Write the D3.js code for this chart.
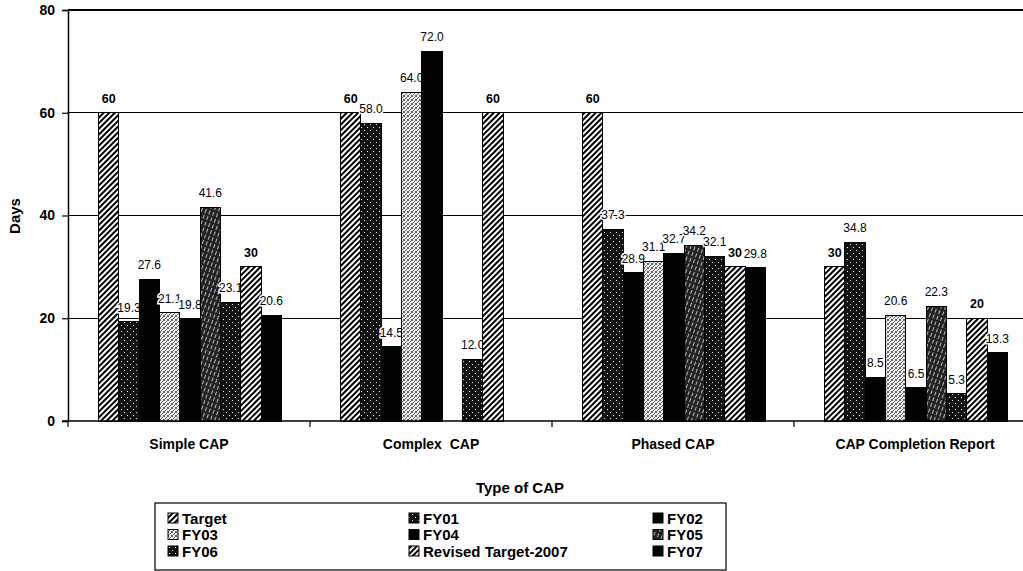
<!DOCTYPE html>
<html><head><meta charset="utf-8">
<script src="https://cdn.jsdelivr.net/npm/d3@7"></script>
<style>body{margin:0;background:#fff;} svg{display:block;font-family:Arial,"Liberation Sans",sans-serif;}</style>
</head><body>
<svg id="chart" width="1023" height="571"></svg>
<script>
const categories = ["Simple CAP", "Complex  CAP", "Phased CAP", "CAP Completion Report"];
const seriesNames = ["Target", "FY01", "FY02", "FY03", "FY04", "FY05", "FY06", "Revised Target-2007", "FY07"];
const target   = [60, 60, 60, 30];
const fy01     = [19.3, 58.0, 37.3, 34.8];
const fy02     = [27.6, 14.5, 28.9, 8.5];
const fy03     = [21.1, 64.0, 31.1, 20.6];
const fy04     = [19.8, 72.0, 32.7, 6.5];
const fy05     = [41.6, null, 34.2, 22.3];
const fy06     = [23.1, 12.0, 32.1, 5.3];
const revised  = [30, 60, 30, 20];
const fy07     = [20.6, null, 29.8, 13.3];
const labelText = [
  ["60","60","60","30"],
  ["19.3","58.0","37.3","34.8"],
  ["27.6","14.5","28.9","8.5"],
  ["21.1","64.0","31.1","20.6"],
  ["19.8","72.0","32.7","6.5"],
  ["41.6","","34.2","22.3"],
  ["23.1","12.0","32.1","5.3"],
  ["30","60","30","20"],
  ["20.6","","29.8","13.3"]
];
const yTicks = [0, 20, 40, 60, 80];

const seriesValues = [target, fy01, fy02, fy03, fy04, fy05, fy06, revised, fy07];
const fills = ["url(#hatch)","url(#darkdots)","#000","url(#stipple)","#000","url(#streak)","url(#darkdots2)","url(#hatch)","#000"];
const boldLabel = [true,false,false,false,false,false,false,true,false];

const svg = d3.select("#chart");
const defs = svg.append("defs");
// diagonal hatch
const ph = defs.append("pattern").attr("id","hatch").attr("patternUnits","userSpaceOnUse")
  .attr("width",4).attr("height",4).attr("patternTransform","rotate(45)");
ph.append("rect").attr("width",4).attr("height",4).attr("fill","#fff");
ph.append("rect").attr("x",0).attr("width",2).attr("height",4).attr("fill","#000");
// dark dots
function darkDots(id){
  const p = defs.append("pattern").attr("id",id).attr("patternUnits","userSpaceOnUse").attr("width",6).attr("height",6);
  p.append("rect").attr("width",6).attr("height",6).attr("fill","#111");
  p.append("rect").attr("x",1).attr("y",1).attr("width",1).attr("height",1).attr("fill","#fff");
  p.append("rect").attr("x",4).attr("y",4).attr("width",1).attr("height",1).attr("fill","#ddd");
}
darkDots("darkdots"); darkDots("darkdots2");
// light stipple
const ps = defs.append("pattern").attr("id","stipple").attr("patternUnits","userSpaceOnUse").attr("width",4).attr("height",4);
ps.append("rect").attr("width",4).attr("height",4).attr("fill","#eeeeee");
[[0,0],[2,1],[1,2],[3,3],[3,0],[0,3]].forEach(([x,y])=>ps.append("rect").attr("x",x).attr("y",y).attr("width",1).attr("height",1).attr("fill","#666"));
// dark streaks
const pk = defs.append("pattern").attr("id","streak").attr("patternUnits","userSpaceOnUse")
  .attr("width",4).attr("height",6).attr("patternTransform","rotate(20)");
pk.append("rect").attr("width",4).attr("height",6).attr("fill","#222");
pk.append("rect").attr("x",1).attr("y",0).attr("width",1).attr("height",4).attr("fill","#bbb");

const plotLeft = 68, plotTop = 10, plotBottom = 421, bandW = 242;
const x0 = d3.scaleBand().domain(categories).range([plotLeft, plotLeft + bandW*categories.length]).padding(0);
const x1 = d3.scaleBand().domain(seriesNames).range([30.5, bandW - 28.5]).padding(0);
const y = d3.scaleLinear().domain([0, 80]).range([plotBottom, plotTop]);

// gridlines
svg.append("g").selectAll("line").data(yTicks.filter(d=>d>0)).join("line")
  .attr("x1", plotLeft).attr("x2", 1040).attr("y1", d=>y(d)).attr("y2", d=>y(d))
  .attr("stroke","#000").attr("stroke-width",1.2).attr("shape-rendering","crispEdges");

// bars and labels per series
seriesNames.forEach((s, i) => {
  const vals = seriesValues[i];
  const g = svg.append("g");
  const data = categories.map((c, j) => ({c, v: vals[j], t: labelText[i][j]})).filter(d => d.v != null);
  g.selectAll("rect").data(data).join("rect")
    .attr("x", d => x0(d.c) + x1(s)).attr("width", x1.bandwidth())
    .attr("y", d => y(d.v)).attr("height", d => y(0) - y(d.v))
    .attr("fill", fills[i]).attr("stroke","#000").attr("stroke-width",1).attr("shape-rendering","crispEdges");
  ["halo","txt"].forEach(kind => {
    g.selectAll("text." + kind).data(data).join("text").attr("class", kind)
      .attr("x", d => x0(d.c) + x1(s) + x1.bandwidth()/2)
      .attr("y", d => y(d.v) - 10)
      .attr("text-anchor","middle")
      .attr("font-size", boldLabel[i] ? 12.5 : 12)
      .attr("font-weight", boldLabel[i] ? "bold" : "normal")
      .attr("fill", kind === "halo" ? "#fff" : "#000")
      .attr("stroke", kind === "halo" ? "#fff" : "none")
      .attr("stroke-width", kind === "halo" ? 3 : 0)
      .text(d => d.t);
  });
});

// y axis
const yAxis = d3.axisLeft(y).tickValues(yTicks).tickSize(6).tickPadding(7);
const ya = svg.append("g").attr("transform", `translate(${plotLeft},0)`).call(yAxis);
ya.select(".domain").attr("stroke","#000").attr("stroke-width",1.5);
ya.selectAll(".tick line").attr("stroke","#000").attr("stroke-width",1.2);
ya.selectAll(".tick text").attr("font-size",14).attr("font-weight","bold").attr("fill","#000")
  .attr("font-family","Arial,'Liberation Sans',sans-serif");

// x axis
const xa = svg.append("g").attr("transform", `translate(0,${plotBottom})`);
xa.append("line").attr("x1", plotLeft - 6).attr("x2", 1040).attr("stroke","#000").attr("stroke-width",1.5);
xa.selectAll("line.tk").data(d3.range(categories.length+1)).join("line").attr("class","tk")
  .attr("x1", d => plotLeft + d*bandW).attr("x2", d => plotLeft + d*bandW).attr("y1",0).attr("y2",6)
  .attr("stroke","#000").attr("stroke-width",1.2);
xa.selectAll("text").data(categories).join("text")
  .attr("x", d => x0(d) + bandW/2).attr("y", 28)
  .attr("text-anchor","middle").attr("font-size",14).attr("font-weight","bold")
  .style("white-space","pre").attr("xml:space","preserve")
  .text(d => d);

// axis titles
svg.append("text").attr("transform","translate(20,216) rotate(-90)").attr("text-anchor","middle")
  .attr("font-size",15).attr("font-weight","bold").text("Days");
svg.append("text").attr("x",520).attr("y",493).attr("text-anchor","middle")
  .attr("font-size",15).attr("font-weight","bold").text("Type of CAP");

// legend
const lgX = 155, lgY = 503;
svg.append("rect").attr("x", lgX).attr("y", lgY).attr("width", 571).attr("height", 67)
  .attr("fill","#fff").attr("stroke","#000").attr("stroke-width",1.2);
const colX = [168, 409, 653];
const rowY = [518, 534.5, 551];
seriesNames.forEach((s, i) => {
  const c = i % 3, r = Math.floor(i / 3);
  svg.append("rect").attr("x", colX[c]).attr("y", rowY[r] - 5).attr("width", 10).attr("height", 10)
    .attr("fill", fills[i]).attr("stroke","#000").attr("stroke-width",1);
  svg.append("text").attr("x", colX[c] + 14).attr("y", rowY[r] + 5.5)
    .attr("font-size",15).attr("font-weight","bold").text(s);
});
</script>
</body></html>
